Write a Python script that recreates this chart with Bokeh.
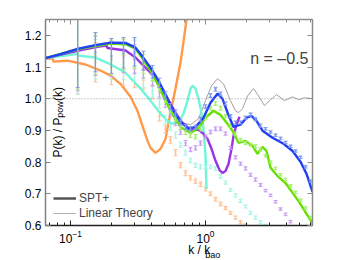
import numpy as np
from bokeh.plotting import figure
from bokeh.layouts import column
from bokeh.models import (Range1d, FixedTicker, LinearAxis, LogAxis, Label, Legend, LegendItem,
                          Span, NumeralTickFormatter, LogTickFormatter, CustomJSTickFormatter,
                          ColumnDataSource)
from bokeh.core.properties import value
from bokeh.embed import file_html
from bokeh.resources import INLINE

FONT = "Liberation Sans"

# ---------------- data ----------------
K_PTS = [0.113, 0.153, 0.201, 0.247, 0.298, 0.347, 0.405, 0.456, 0.505, 0.550,
         0.600, 0.653, 0.711, 0.774, 0.843, 0.918, 1.000, 1.089, 1.186, 1.291,
         1.406, 1.531, 1.668, 1.817, 1.978, 2.154, 2.346, 2.555, 2.783, 3.030,
         3.300, 3.594, 3.914, 4.262, 4.642, 5.055, 5.505, 5.995]
ERR = [0.125, 0.062, 0.055, 0.048, 0.045, 0.030, 0.020, 0.015, 0.012, 0.010,
       0.010, 0.008, 0.008, 0.007, 0.007, 0.007, 0.006, 0.006, 0.006, 0.006,
       0.005, 0.005, 0.005, 0.005, 0.005, 0.005, 0.005, 0.005, 0.004, 0.004,
       0.004, 0.004, 0.004, 0.004, 0.004, 0.004, 0.004, 0.004]

BLUE_PTS = [1.160, 1.147, 1.135, 1.145, 1.148, 1.120, 1.085, 1.050, 1.010, 0.975,
            0.955, 0.925, 0.910, 0.905, 0.910, 0.935, 0.975, 1.010, 1.030, 1.015,
            0.985, 0.945, 0.925, 0.925, 0.940, 0.950, 0.935, 0.915, 0.905, 0.895,
            0.885, 0.875, 0.862, 0.850, 0.835, 0.815, 0.785, 0.740]
GREEN_PTS = [1.155, 1.140, 1.130, 1.140, 1.140, 1.110, 1.075, 1.040, 1.000, 0.965,
             0.940, 0.910, 0.895, 0.885, 0.880, 0.905, 0.940, 0.970, 0.985, 0.970,
             0.945, 0.915, 0.890, 0.870, 0.860, 0.855, 0.850, 0.840, 0.820, 0.800,
             0.780, 0.760, 0.745, 0.725, 0.705, 0.680, 0.655, 0.625]
PURPLE_PTS = [1.150, 1.135, 1.125, 1.130, 1.125, 1.095, 1.060, 1.020, 0.985, 0.955,
              0.925, 0.895, 0.860, 0.840, 0.845, 0.860, 0.880, 0.895, 0.905, 0.905,
              0.890, 0.845, 0.815, 0.795, 0.780, 0.760, 0.745, 0.728, 0.710, 0.695,
              0.675, 0.652, 0.635, 0.612]
CYAN_PTS = [1.140, 1.125, 1.115, 1.110, 1.100, 1.065, 1.025, 0.985, 0.935, 0.910,
            0.885, 0.855, 0.830, 0.805, 0.790, 0.785, 0.785, 0.785, 0.780, 0.755,
            0.735, 0.712, 0.695, 0.678, 0.660, 0.640, 0.625, 0.610, 0.600]
ORANGE_PTS = [1.140, 1.115, 1.100, 1.090, 1.080, 1.060, 1.020, 0.945, 0.905, 0.870,
              0.830, 0.790, 0.765, 0.750, 0.740, 0.730, 0.715, 0.700, 0.683, 0.668,
              0.655, 0.640, 0.625, 0.610, 0.600]

BLUE_K = [0.0653, 0.0843, 0.1147, 0.1532, 0.1978, 0.2555, 0.3030, 0.3415, 0.3914, 0.4484,
          0.5054, 0.5794, 0.6529, 0.7484, 0.8434, 0.9665, 1.0889, 1.227, 1.336, 1.456,
          1.612, 1.817, 2.012, 2.192, 2.387, 2.644, 3.135, 3.782, 4.41, 5.055, 5.60, 6.20]
BLUE_V = [1.128, 1.141, 1.158, 1.169, 1.177, 1.176, 1.161, 1.133, 1.098, 1.057,
          1.013, 0.962, 0.927, 0.905, 0.911, 0.940, 0.987, 1.016, 1.000, 0.956,
          0.911, 0.918, 0.940, 0.946, 0.930, 0.899, 0.877, 0.858, 0.835, 0.801, 0.763, 0.706]

GREEN_K = [0.0653, 0.1147, 0.1978, 0.2555, 0.3030, 0.3415, 0.3914, 0.4484, 0.5054, 0.5794,
           0.6529, 0.7743, 0.8876, 1.000, 1.146, 1.2915, 1.456, 1.585, 1.756, 1.978,
           2.230, 2.428, 2.644, 2.830, 3.030, 3.415, 3.914, 4.886, 6.20]
GREEN_V = [1.128, 1.157, 1.174, 1.172, 1.158, 1.127, 1.089, 1.041, 0.994, 0.946,
           0.911, 0.892, 0.908, 0.940, 0.962, 0.949, 0.921, 0.899, 0.861, 0.867,
           0.851, 0.826, 0.848, 0.835, 0.782, 0.756, 0.734, 0.677, 0.607]

PURPLE_K = [0.0653, 0.1147, 0.1668, 0.1848, 0.1879, 0.2555, 0.3030, 0.3300, 0.3914, 0.4642,
            0.5503, 0.6529, 0.7743, 0.8876, 0.9665, 1.035, 1.1076, 1.186, 1.2695, 1.336,
            1.406, 1.480, 1.558, 1.612, 1.696, 1.786]
PURPLE_V = [1.128, 1.152, 1.165, 1.168, 1.160, 1.152, 1.130, 1.114, 1.082, 1.041,
            0.984, 0.930, 0.902, 0.902, 0.889, 0.873, 0.842, 0.804, 0.775, 0.766,
            0.772, 0.794, 0.842, 0.883, 0.918, 0.943]

CYAN_K = [0.0653, 0.0918, 0.1127, 0.1147, 0.1532, 0.1928, 0.2555, 0.3300, 0.3914, 0.4642,
          0.5231, 0.5694, 0.6310, 0.6873, 0.7357, 0.7743, 0.8012, 0.8434, 0.8876, 0.9341,
          0.9665, 1.000, 1.0172]
CYAN_V = [1.128, 1.136, 1.142, 1.136, 1.130, 1.111, 1.082, 1.032, 0.994, 0.953,
          0.930, 0.921, 0.927, 0.953, 0.994, 1.032, 1.041, 1.032, 1.000, 0.956,
          0.905, 0.820, 0.715]

ORANGE_K = [0.0653, 0.0736, 0.0748, 0.0950, 0.1292, 0.1668, 0.1978, 0.2346, 0.2783, 0.3134,
            0.3473, 0.3719, 0.3914, 0.4262, 0.4642, 0.5054, 0.5503, 0.5995, 0.6529, 0.6873,
            0.7233]
ORANGE_V = [1.127, 1.127, 1.117, 1.120, 1.108, 1.089, 1.073, 1.047, 1.006, 0.962,
            0.905, 0.867, 0.845, 0.829, 0.842, 0.873, 0.956, 1.032, 1.114, 1.180,
            1.250]

LIN_K = [0.0653, 0.1147, 0.1978, 0.2555, 0.3030, 0.3415, 0.3914, 0.4484, 0.5054, 0.5794,
         0.6755, 0.7743, 0.8876, 1.000, 1.1076, 1.227, 1.359, 1.5315, 1.668, 1.756,
         1.879, 2.047, 2.269, 2.470, 2.737, 3.030, 3.357, 3.844, 4.41, 4.886, 5.41, 6.20]
LIN_V = [1.128, 1.158, 1.177, 1.176, 1.161, 1.133, 1.098, 1.057, 1.013, 0.968,
         0.924, 0.918, 0.937, 0.994, 1.041, 1.063, 1.047, 0.994, 0.962, 0.956,
         0.968, 1.009, 1.032, 1.009, 0.978, 0.997, 1.013, 0.994, 1.006, 0.997, 1.003, 1.000]

REF_LEVEL = 1.0
Y_TICKS = [0.6, 0.7, 0.8, 0.9, 1.0, 1.1, 1.2]
X_MAJOR = [0.1, 1.0]
X_MINOR = [0.07, 0.08, 0.09, 0.2, 0.3, 0.4, 0.5, 0.6, 0.7, 0.8, 0.9, 2, 3, 4, 5, 6]
X_LIMITS = (0.0653, 6.2)
Y_LIMITS = (0.6, 1.25)
TITLE_TEXT = "n = \u20130.5"
LEGEND_LABELS = ["SPT+", "Linear Theory"]

# axis titles (with subscripts) drawn as text on a transparent overlay sheet
Y_TITLE_TEXTS = ["P(k) / P", "pow", "(k)"]
Y_TITLE_SIZES = ["12px", "9px", "12px"]
X_TITLE_TEXTS = ["k / k", "bao"]
X_TITLE_SIZES = ["12px", "9px"]

SERIES = [
    (ORANGE_K, ORANGE_V, ORANGE_PTS, "#ff9a4a", "#ffbf8f"),
    (CYAN_K, CYAN_V, CYAN_PTS, "#6ff5d8", "#a6f5e6"),
    (PURPLE_K, PURPLE_V, PURPLE_PTS, "#9933e6", "#c99cf2"),
    (GREEN_K, GREEN_V, GREEN_PTS, "#66e000", "#a6ee6a"),
    (BLUE_K, BLUE_V, BLUE_PTS, "#1f3ff5", "#7f98ee"),
]

W, H = 346, 258

# ---------------- main figure ----------------
p = figure(frame_width=267, frame_height=206, x_axis_type="log",
           x_range=Range1d(*X_LIMITS), y_range=Range1d(*Y_LIMITS),
           output_backend="svg", toolbar_location=None,
           min_border_left=45, min_border_right=W - 45 - 267, min_border_top=19,
           min_border_bottom=H - 19 - 206)
p.grid.visible = False
p.outline_line_color = "#8c8c8c"

EMPTY = CustomJSTickFormatter(code="return ''")

def style_axis(ax, color):
    ax.major_tick_in = 5
    ax.major_tick_out = 0
    ax.minor_tick_in = 3
    ax.minor_tick_out = 0
    ax.axis_line_color = color
    ax.axis_line_width = 1.5
    ax.major_tick_line_color = color
    ax.minor_tick_line_color = color
    ax.major_label_text_font = FONT
    ax.major_label_text_font_size = "12px"
    ax.major_label_text_color = "black"
    ax.major_label_standoff = 4

yax = p.yaxis[0]
yax.ticker = FixedTicker(ticks=Y_TICKS)
yax.formatter = NumeralTickFormatter(format="0.0")
style_axis(yax, "#808080")
yax.minor_tick_line_color = None

xax = p.xaxis[0]
xax.ticker = FixedTicker(ticks=X_MAJOR, minor_ticks=X_MINOR)
xax.formatter = LogTickFormatter()
style_axis(xax, "#222222")

ra = LinearAxis(ticker=FixedTicker(ticks=Y_TICKS), formatter=EMPTY)
style_axis(ra, "#8c8c8c")
ra.minor_tick_line_color = None
ra.major_label_standoff = 0
p.add_layout(ra, "right")
ta = LogAxis(ticker=FixedTicker(ticks=X_MAJOR, minor_ticks=X_MINOR), formatter=EMPTY)
style_axis(ta, "#8c8c8c")
ta.major_label_standoff = 0
p.add_layout(ta, "above")

p.add_layout(Span(location=REF_LEVEL, dimension="width", line_color="#9a9a9a",
                  line_dash="1 2", line_width=1))

p.line(LIN_K, LIN_V, line_color="#a0a0a0", line_width=1)

for kc, vc, pts, lc, pc in SERIES:
    n = len(pts)
    kk = np.array(K_PTS[:n])
    vv = np.array(pts)
    ee = np.array(ERR[:n])
    p.line(kc, vc, line_color=lc, line_width=2.4)
    p.segment(x0=kk, y0=vv - ee, x1=kk, y1=vv + ee, line_color=pc, line_width=1.2)
    p.scatter(kk, vv + ee, marker="dash", size=4, line_color=pc, line_width=1)
    p.scatter(kk, vv - ee, marker="dash", size=4, line_color=pc, line_width=1)
    p.scatter(kk, vv, marker="x", size=3, line_color=pc, line_width=1)

r1 = p.line([np.nan], [np.nan], line_color="#555555", line_width=2.5)
r2 = p.line([np.nan], [np.nan], line_color="#b0b0b0", line_width=1)
leg = Legend(items=[LegendItem(label=LEGEND_LABELS[0], renderers=[r1]),
                    LegendItem(label=LEGEND_LABELS[1], renderers=[r2])],
             location=(3, 0), background_fill_alpha=0, border_line_alpha=0,
             label_text_font=FONT, label_text_font_size="12px",
             glyph_width=23, glyph_height=14, label_height=14, spacing=1,
             padding=5, label_standoff=3, margin=0)
p.add_layout(leg)

p.add_layout(Label(x=263, y=167, x_units="screen", y_units="screen", text=TITLE_TEXT,
                   text_font=FONT, text_font_size="16px", text_align="right",
                   text_baseline="alphabetic"))

# ---------------- transparent overlay sheet for the axis titles ----------------
sheet = figure(width=W, height=H, x_range=Range1d(0, W), y_range=Range1d(H, 0),
               output_backend="svg", toolbar_location=None, min_border=0,
               x_axis_location=None, y_axis_location=None, margin=(-H, 0, 0, 0))
sheet.grid.visible = False
sheet.outline_line_color = None
sheet.background_fill_color = None
sheet.border_fill_color = None

# rotated y title pieces: anchored at the start of the text, on its top line
ysrc = ColumnDataSource(dict(x=[7.6, 12.0, 7.6], y=[157.0, 117.3, 100.6],
                             text=Y_TITLE_TEXTS, size=Y_TITLE_SIZES))
sheet.text(x="x", y="y", text="text", text_font_size="size", source=ysrc, angle=np.pi / 2,
           text_font=value(FONT), text_color="black", text_align="left",
           text_baseline="top")
# x title pieces, anchored at their left baseline
xsrc = ColumnDataSource(dict(x=[185.0, 207.0], y=[249.0, 254.0],
                             text=X_TITLE_TEXTS, size=X_TITLE_SIZES))
sheet.text(x="x", y="y", text="text", text_font_size="size", source=xsrc,
           text_font=value(FONT), text_color="black", text_align="left",
           text_baseline="alphabetic")

layout = column(p, sheet, spacing=0)
open("out.html", "w").write(file_html(layout, INLINE))
